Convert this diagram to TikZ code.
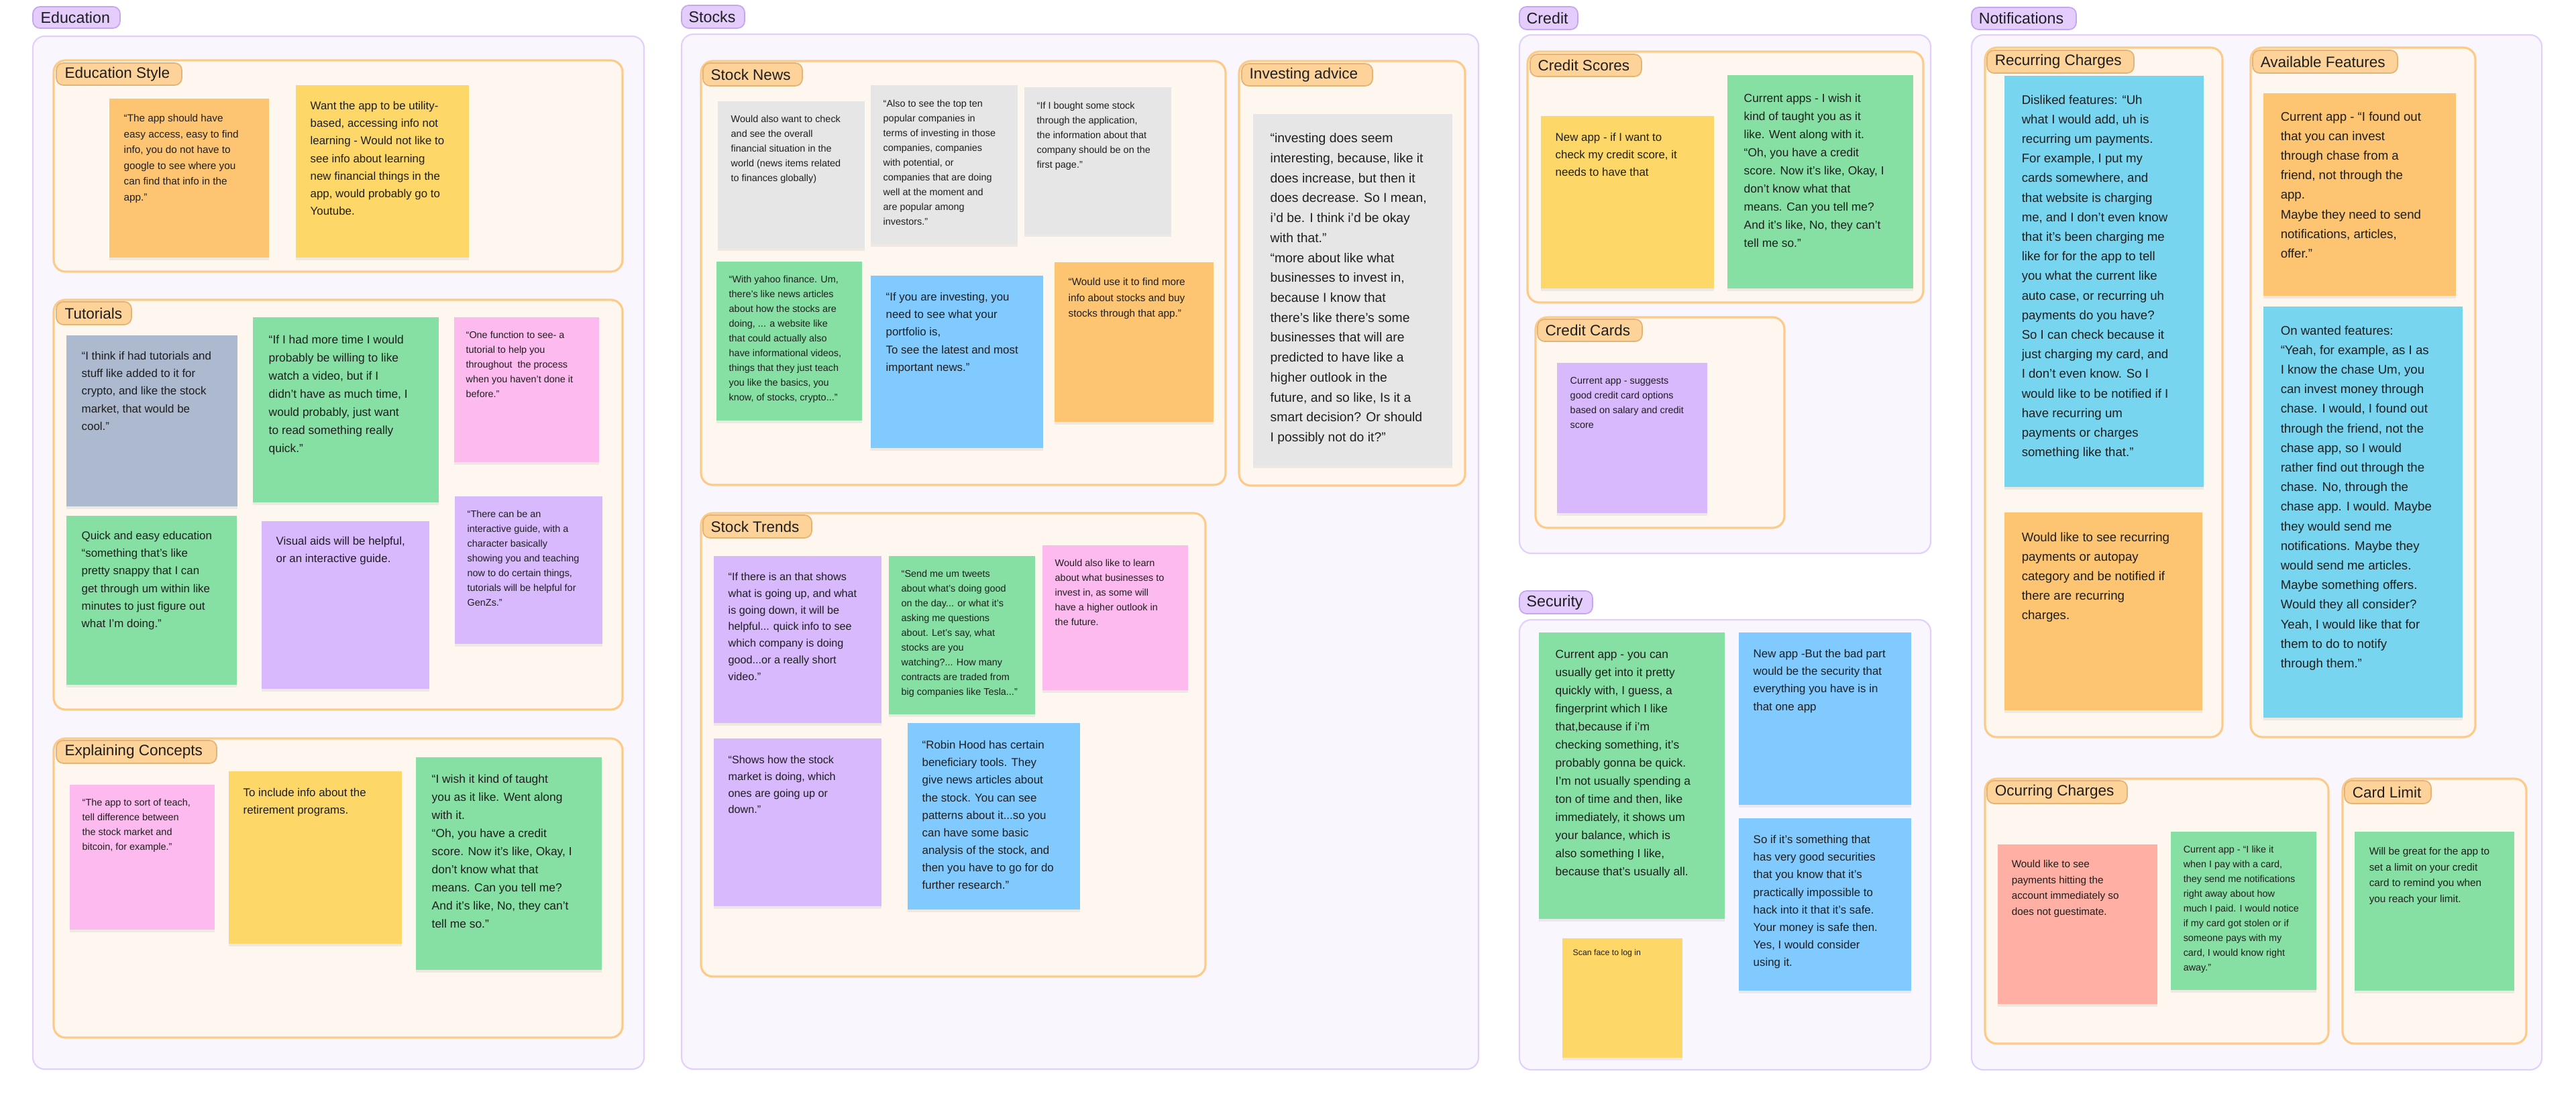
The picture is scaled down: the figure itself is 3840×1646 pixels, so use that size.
\documentclass[tikz,border=0pt]{standalone}
\usepackage{fontspec}
\setmainfont{Liberation Sans}
\usetikzlibrary{shadows}
\definecolor{pbg}{HTML}{F9F6FE}\definecolor{pbd}{HTML}{E3CFFB}
\definecolor{ptag}{HTML}{E4CCFD}\definecolor{ptagb}{HTML}{C6A6EE}
\definecolor{gbg}{HTML}{FEF7F0}\definecolor{gbd}{HTML}{FCCB8A}
\definecolor{gtag}{HTML}{FDD39A}\definecolor{gtagb}{HTML}{E3B476}
\definecolor{cOr}{HTML}{FDC572}\definecolor{cYe}{HTML}{FDD868}
\definecolor{cGr}{HTML}{86E0A3}\definecolor{cPk}{HTML}{FDBAEE}
\definecolor{cPu}{HTML}{D9B9FD}\definecolor{cBl}{HTML}{80CAFF}
\definecolor{cGy}{HTML}{E6E6E6}\definecolor{cSl}{HTML}{ADB9CE}
\definecolor{cCy}{HTML}{78D5EF}\definecolor{cSa}{HTML}{FFAFA3}
\definecolor{ink}{HTML}{1E1E1E}
\tikzset{
 panel/.style={fill=pbg,draw=pbd,line width=0.6pt,rounded corners=5pt},
 ptagbox/.style={fill=ptag,draw=ptagb,line width=0.5pt,rounded corners=3pt},
 grp/.style={fill=gbg,draw=gbd,line width=0.9pt,rounded corners=5pt},
 gtagbox/.style={fill=gtag,draw=gtagb,line width=0.5pt,rounded corners=3pt},
 shd/.style={drop shadow={opacity=0.12,shadow xshift=0pt,shadow yshift=-1.2pt}},
 tx/.style={anchor=north west,inner sep=0pt,align=left,text=ink},
 L22/.style={tx,font=\fontsize{4.1pt}{6.26pt}\selectfont},
 L23/.style={tx,font=\fontsize{4.35pt}{6.69pt}\selectfont},
 L25/.style={tx,font=\fontsize{4.6pt}{7.05pt}\selectfont},
 L26/.style={tx,font=\fontsize{4.8pt}{7.4pt}\selectfont},
 L27/.style={tx,font=\fontsize{4.95pt}{7.68pt}\selectfont},
 L29/.style={tx,font=\fontsize{5.3pt}{8.3pt}\selectfont},
 L30/.style={tx,font=\fontsize{5.5pt}{8.45pt}\selectfont},
 Lsm/.style={tx,font=\fontsize{3.5pt}{5pt}\selectfont},
 ptxt/.style={anchor=west,inner sep=0pt,text=ink,font=\fontsize{6.6pt}{7pt}\selectfont},
 gtxt/.style={anchor=west,inner sep=0pt,text=ink,font=\fontsize{6.4pt}{7pt}\selectfont},
}
\newcommand\stk[7]{\path[fill=#2,shd] (#3) rectangle (#4); \node[#5] (#1) at (#6) {#7};}
\newcommand\ptg[5]{\path[ptagbox] (#2) rectangle (#3); \node[ptxt] (#1) at (#4) {#5};}
\newcommand\gtg[5]{\path[gtagbox] (#2) rectangle (#3); \node[gtxt] (#1) at (#4) {#5};}
\begin{document}
\begin{tikzpicture}[x=0.01cm,y=-0.01cm]
\useasboundingbox[fill=white] (0,0) rectangle (3840,1646);
% panels
\path[panel] (49,54) rectangle (960,1594);
\path[panel] (1016,51) rectangle (2204,1594);
\path[panel] (2265,52) rectangle (2878,825);
\path[panel] (2265,924) rectangle (2878,1595);
\path[panel] (2939,52) rectangle (3789,1595);
\ptg{tEdu}{49,10}{179,42}{60,26}{Education}
\ptg{tSto}{1016,8}{1110,42}{1026,25}{Stocks}
\ptg{tCre}{2265,10}{2352,44}{2275,27}{Credit}
\ptg{tSec}{2265,881}{2374,915}{2275,898}{Security}
\ptg{tNot}{2939,11}{3095,44}{2949,27.5}{Notifications}
% groups
\path[grp] (80,90) rectangle (928,405);
\path[grp] (80,447) rectangle (928,1058);
\path[grp] (80,1101) rectangle (928,1547);
\path[grp] (1045,91) rectangle (1827,723);
\path[grp] (1847,91) rectangle (2184,724);
\path[grp] (1045,765) rectangle (1797,1456);
\path[grp] (2277,77) rectangle (2867,451);
\path[grp] (2289,473) rectangle (2660,787);
\path[grp] (2959,71) rectangle (3313,1099);
\path[grp] (3355,71) rectangle (3690,1099);
\path[grp] (2959,1161) rectangle (3471,1556);
\path[grp] (3492,1161) rectangle (3766,1556);
\gtg{gES}{84,94}{271,127}{96,110.5}{Education Style}
\gtg{gTu}{84,450}{196,484}{96,467}{Tutorials}
\gtg{gEC}{84,1104}{323,1138}{96,1121}{Explaining Concepts}
\gtg{gSN}{1048,94}{1196,128}{1059,111}{Stock News}
\gtg{gIA}{1851,95}{2046,128}{1862,111.5}{Investing advice}
\gtg{gST}{1048,768}{1210,802}{1059,785}{Stock Trends}
\gtg{gCS}{2281,81}{2447,114}{2292,97.5}{Credit Scores}
\gtg{gCC}{2292,476}{2448,509}{2303,492.5}{Credit Cards}
\gtg{gRC}{2962,75}{3181,109}{2973,92}{Recurring Charges}
\gtg{gAF}{3358,75}{3574,109}{3369,92}{Available Features}
\gtg{gOC}{2962,1164}{3171,1198}{2973,1181}{Ocurring Charges}
\gtg{gCL}{3495,1164}{3624,1198}{3506,1181}{Card Limit}
% Education Style
\stk{n1}{cOr}{163,147}{401,384}{L23}{184,170}{“The app should have\\easy access, easy to find\\info, you do not have to\\google to see where you\\can find that info in the\\app.”}
\stk{n2}{cYe}{441,127}{699,384}{L26}{462,151}{Want the app to be utility-\\based, accessing info not\\learning - Would not like to\\see info about learning\\new financial things in the\\app, would probably go to\\Youtube.}
% Tutorials
\stk{n3}{cSl}{99,500}{354,755}{L26}{121,524}{“I think if had tutorials and\\stuff like added to it for\\crypto, and like the stock\\market, that would be\\cool.”}
\stk{n4}{cGr}{377,473}{654,749}{L27}{400,499}{“If I had more time I would\\probably be willing to like\\watch a video, but if I\\didn't have as much time, I\\would probably, just want\\to read something really\\quick.”}
\stk{n5}{cPk}{677,473}{893,689}{L22}{694,493}{“One function to see- a\\tutorial to help you\\throughout\ \ the process\\when you haven’t done it\\before.”}
\stk{n6}{cGr}{99,769}{353,1021}{L26}{121,792}{Quick and easy education\\“something that's like\\pretty snappy that I can\\get through um within like\\minutes to just figure out\\what I'm doing.”}
\stk{n7}{cPu}{390,777}{640,1027}{L26}{411,800}{Visual aids will be helpful,\\or an interactive guide.}
\stk{n8}{cPu}{678,740}{898,960}{L22}{696,760}{“There can be an\\interactive guide, with a\\character basically\\showing you and teaching\\now to do certain things,\\tutorials will be helpful for\\GenZs.”}
% Explaining Concepts
\stk{n9}{cPk}{104,1170}{320,1386}{L22}{122,1190}{“The app to sort of teach,\\tell difference between\\the stock market and\\bitcoin, for example.”}
\stk{n10}{cYe}{341,1150}{599,1407}{L26}{362,1175}{To include info about the\\retirement programs.}
\stk{n11}{cGr}{620,1129}{897,1446}{L27}{643,1154}{“I wish it kind of taught\\you as it like. Went along\\with it.\\“Oh, you have a credit\\score. Now it's like, Okay, I\\don't know what that\\means. Can you tell me?\\And it's like, No, they can't\\tell me so.”}
% Stock News
\stk{n12}{cGy}{1070,151}{1289,370}{L22}{1089,171}{Would also want to check\\and see the overall\\financial situation in the\\world (news items related\\to finances globally)}
\stk{n13}{cGy}{1298,127}{1517,364}{L22}{1316,148}{“Also to see the top ten\\popular companies in\\terms of investing in those\\companies, companies\\with potential, or\\companies that are doing\\well at the moment and\\are popular among\\investors.”}
\stk{n14}{cGy}{1527,130}{1746,349}{L22}{1545,151}{“If I bought some stock\\through the application,\\the information about that\\company should be on the\\first page.”}
\stk{n15}{cGr}{1068,390}{1285,627}{L22}{1086,410}{“With yahoo finance. Um,\\there's like news articles\\about how the stocks are\\doing, ... a website like\\that could actually also\\have informational videos,\\things that they just teach\\you like the basics, you\\know, of stocks, crypto...”}
\stk{n16}{cBl}{1298,411}{1555,668}{L26}{1320,436}{“If you are investing, you\\need to see what your\\portfolio is,\\To see the latest and most\\important news.”}
\stk{n17}{cOr}{1572,391}{1809,629}{L23}{1592,414}{“Would use it to find more\\info about stocks and buy\\stocks through that app.”}
% Investing advice
\stk{n18}{cGy}{1868,170}{2165,694}{L30}{1893,198}{“investing does seem\\interesting, because, like it\\does increase, but then it\\does decrease. So I mean,\\i'd be. I think i'd be okay\\with that.”\\“more about like what\\businesses to invest in,\\because I know that\\there's like there's some\\businesses that will are\\predicted to have like a\\higher outlook in the\\future, and so like, Is it a\\smart decision? Or should\\I possibly not do it?”}
% Stock Trends
\stk{n19}{cPu}{1064,829}{1314,1078}{L25}{1085,853}{“If there is an that shows\\what is going up, and what\\is going down, it will be\\helpful... quick info to see\\which company is doing\\good...or a really short\\video.”}
\stk{n20}{cGr}{1325,829}{1543,1065}{L22}{1343,849}{“Send me um tweets\\about what's doing good\\on the day... or what it's\\asking me questions\\about. Let's say, what\\stocks are you\\watching?... How many\\contracts are traded from\\big companies like Tesla...”}
\stk{n21}{cPk}{1554,813}{1771,1029}{L22}{1572,833}{Would also like to learn\\about what businesses to\\invest in, as some will\\have a higher outlook in\\the future.}
\stk{n22}{cPu}{1064,1101}{1314,1351}{L25}{1085,1126}{“Shows how the stock\\market is doing, which\\ones are going up or\\down.”}
\stk{n23}{cBl}{1353,1078}{1610,1356}{L26}{1374,1104}{“Robin Hood has certain\\beneficiary tools. They\\give news articles about\\the stock. You can see\\patterns about it...so you\\can have some basic\\analysis of the stock, and\\then you have to go for do\\further research.”}
% Credit
\stk{n24}{cYe}{2297,173}{2555,430}{L26}{2318,198}{New app - if I want to\\check my credit score, it\\needs to have that}
\stk{n25}{cGr}{2575,112}{2852,430}{L27}{2599,139}{Current apps - I wish it\\kind of taught you as it\\like. Went along with it.\\“Oh, you have a credit\\score. Now it's like, Okay, I\\don't know what that\\means. Can you tell me?\\And it's like, No, they can't\\tell me so.”}
\stk{n26}{cPu}{2321,541}{2545,765}{L22}{2340,562}{Current app - suggests\\good credit card options\\based on salary and credit\\score}
% Security
\stk{n27}{cGr}{2294,943}{2571,1370}{L27}{2318,969}{Current app - you can\\usually get into it pretty\\quickly with, I guess, a\\fingerprint which I like\\that,because if i'm\\checking something, it's\\probably gonna be quick.\\I'm not usually spending a\\ton of time and then, like\\immediately, it shows um\\your balance, which is\\also something I like,\\because that's usually all.}
\stk{n28}{cBl}{2592,943}{2849,1200}{L26}{2613,968}{New app -But the bad part\\would be the security that\\everything you have is in\\that one app}
\stk{n29}{cBl}{2592,1220}{2849,1477}{L26}{2613,1245}{So if it's something that\\has very good securities\\that you know that it's\\practically impossible to\\hack into it that it's safe.\\Your money is safe then.\\Yes, I would consider\\using it.}
\stk{n30}{cYe}{2329,1399}{2508,1577}{Lsm}{2344,1415}{Scan face to log in}
% Notifications
\stk{n31}{cCy}{2988,113}{3285,726}{L29}{3013,141}{Disliked features: “Uh\\what I would add, uh is\\recurring um payments.\\For example, I put my\\cards somewhere, and\\that website is charging\\me, and I don't even know\\that it's been charging me\\like for for the app to tell\\you what the current like\\auto case, or recurring uh\\payments do you have?\\So I can check because it\\just charging my card, and\\I don't even know. So I\\would like to be notified if I\\have recurring um\\payments or charges\\something like that.”}
\stk{n32}{cOr}{2988,764}{3283,1059}{L29}{3013,793}{Would like to see recurring\\payments or autopay\\category and be notified if\\there are recurring\\charges.}
\stk{n33}{cOr}{3374,139}{3661,441}{L29}{3399,166}{Current app - “I found out\\that you can invest\\through chase from a\\friend, not through the\\app.\\Maybe they need to send\\notifications, articles,\\offer.”}
\stk{n34}{cCy}{3374,457}{3671,1070}{L29}{3399,485}{On wanted features:\\“Yeah, for example, as I as\\I know the chase Um, you\\can invest money through\\chase. I would, I found out\\through the friend, not the\\chase app, so I would\\rather find out through the\\chase. No, through the\\chase app. I would. Maybe\\they would send me\\notifications. Maybe they\\would send me articles.\\Maybe something offers.\\Would they all consider?\\Yeah, I would like that for\\them to do to notify\\through them.”}
\stk{n35}{cSa}{2978,1259}{3216,1497}{L23}{2998,1282}{Would like to see\\payments hitting the\\account immediately so\\does not guestimate.}
\stk{n36}{cGr}{3236,1240}{3453,1476}{L22}{3254,1260}{Current app - “I like it\\when I pay with a card,\\they send me notifications\\right away about how\\much I paid. I would notice\\if my card got stolen or if\\someone pays with my\\card, I would know right\\away.”}
\stk{n37}{cGr}{3510,1240}{3748,1477}{L23}{3531,1263}{Will be great for the app to\\set a limit on your credit\\card to remind you when\\you reach your limit.}
\end{tikzpicture}
\end{document}
